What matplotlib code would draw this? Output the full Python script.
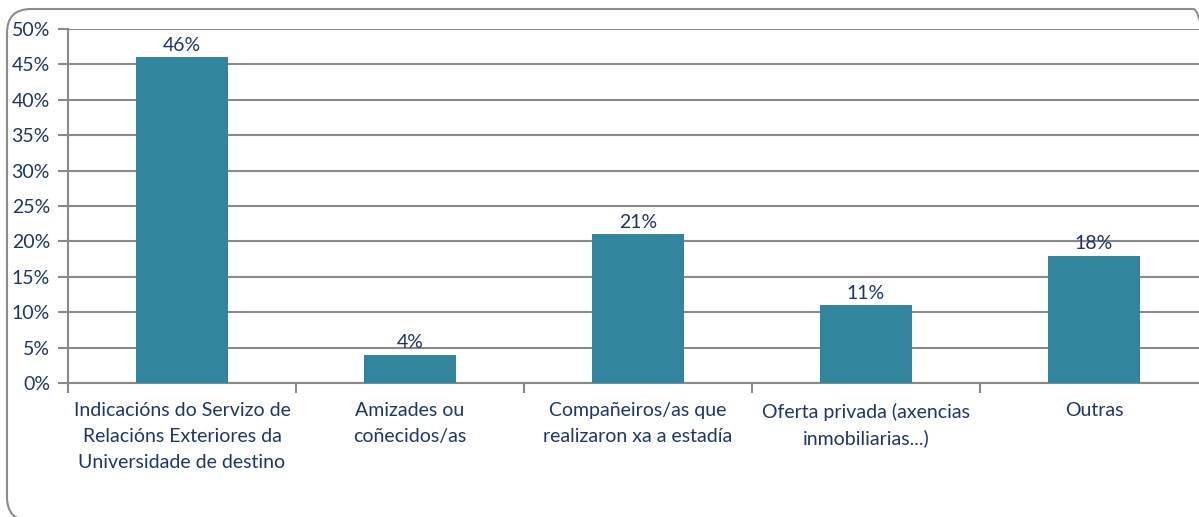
import matplotlib
matplotlib.use("Agg")
import matplotlib.pyplot as plt
from matplotlib.patches import FancyBboxPatch
from matplotlib.transforms import IdentityTransform
from matplotlib.ticker import FixedLocator, FuncFormatter

categories = [
    "Indicacións do Servizo de\nRelacións Exteriores da\nUniversidade de destino",
    "Amizades ou\ncoñecidos/as",
    "Compañeiros/as que\nrealizaron xa a estadía",
    "Oferta privada (axencias\ninmobiliarias...)",
    "Outras",
]
values = [46, 4, 21, 11, 18]
value_labels = ["46%", "4%", "21%", "11%", "18%"]
yticks = [0, 5, 10, 15, 20, 25, 30, 35, 40, 45, 50]

text_color = "#1C3767"
bar_color = "#31859C"
grid_color = "#898989"
fs = 14

plt.rcParams["font.family"] = ["Lato", "DejaVu Sans"]

fig = plt.figure(figsize=(11.99, 5.17), dpi=100)
box = FancyBboxPatch((7, -4), 1210, 512, boxstyle="round,pad=0,rounding_size=24",
                     transform=IdentityTransform(), facecolor="none", edgecolor="#8C8C8C",
                     linewidth=1.5, zorder=-1)
fig.patches.append(box)

ax = fig.add_axes([68 / 1199, (517 - 383) / 517, 1 - 68 / 1199, (383 - 29) / 517])
ax.set_facecolor("none")
x = list(range(len(categories)))
ax.bar(x, values, width=0.4, color=bar_color, zorder=3)
for xi, v, lab in zip(x, values, value_labels):
    ax.annotate(lab, (xi, v), xytext=(0, 2.5), textcoords="offset points", ha="center", va="bottom",
                fontsize=fs, color=text_color)

ax.set_xlim(-0.5, (1199 - 68) / 228 - 0.5)
ax.set_ylim(0, 50)
ax.set_yticks(yticks)
ax.yaxis.set_major_formatter(FuncFormatter(lambda v, p: f"{int(v)}%"))
ax.yaxis.grid(True, color=grid_color, linewidth=1.5, zorder=1)
ax.set_axisbelow(True)

ax.set_xticks(x)
ax.set_xticklabels(categories, fontsize=fs, color=text_color, linespacing=1.62)
ax.tick_params(axis="x", which="major", length=0, pad=14)
ax.xaxis.set_minor_locator(FixedLocator([i - 0.5 for i in range(len(categories) + 1)]))
ax.tick_params(axis="x", which="minor", length=7, width=1.5, color=grid_color, direction="out")
ax.tick_params(axis="y", length=7, width=1.5, color=grid_color, labelsize=fs,
               labelcolor=text_color, pad=6)

for s in ["top", "right"]:
    ax.spines[s].set_visible(False)
for s in ["left", "bottom"]:
    ax.spines[s].set_color(grid_color)
    ax.spines[s].set_linewidth(1.5)

fig.savefig("out.png", dpi=100)
